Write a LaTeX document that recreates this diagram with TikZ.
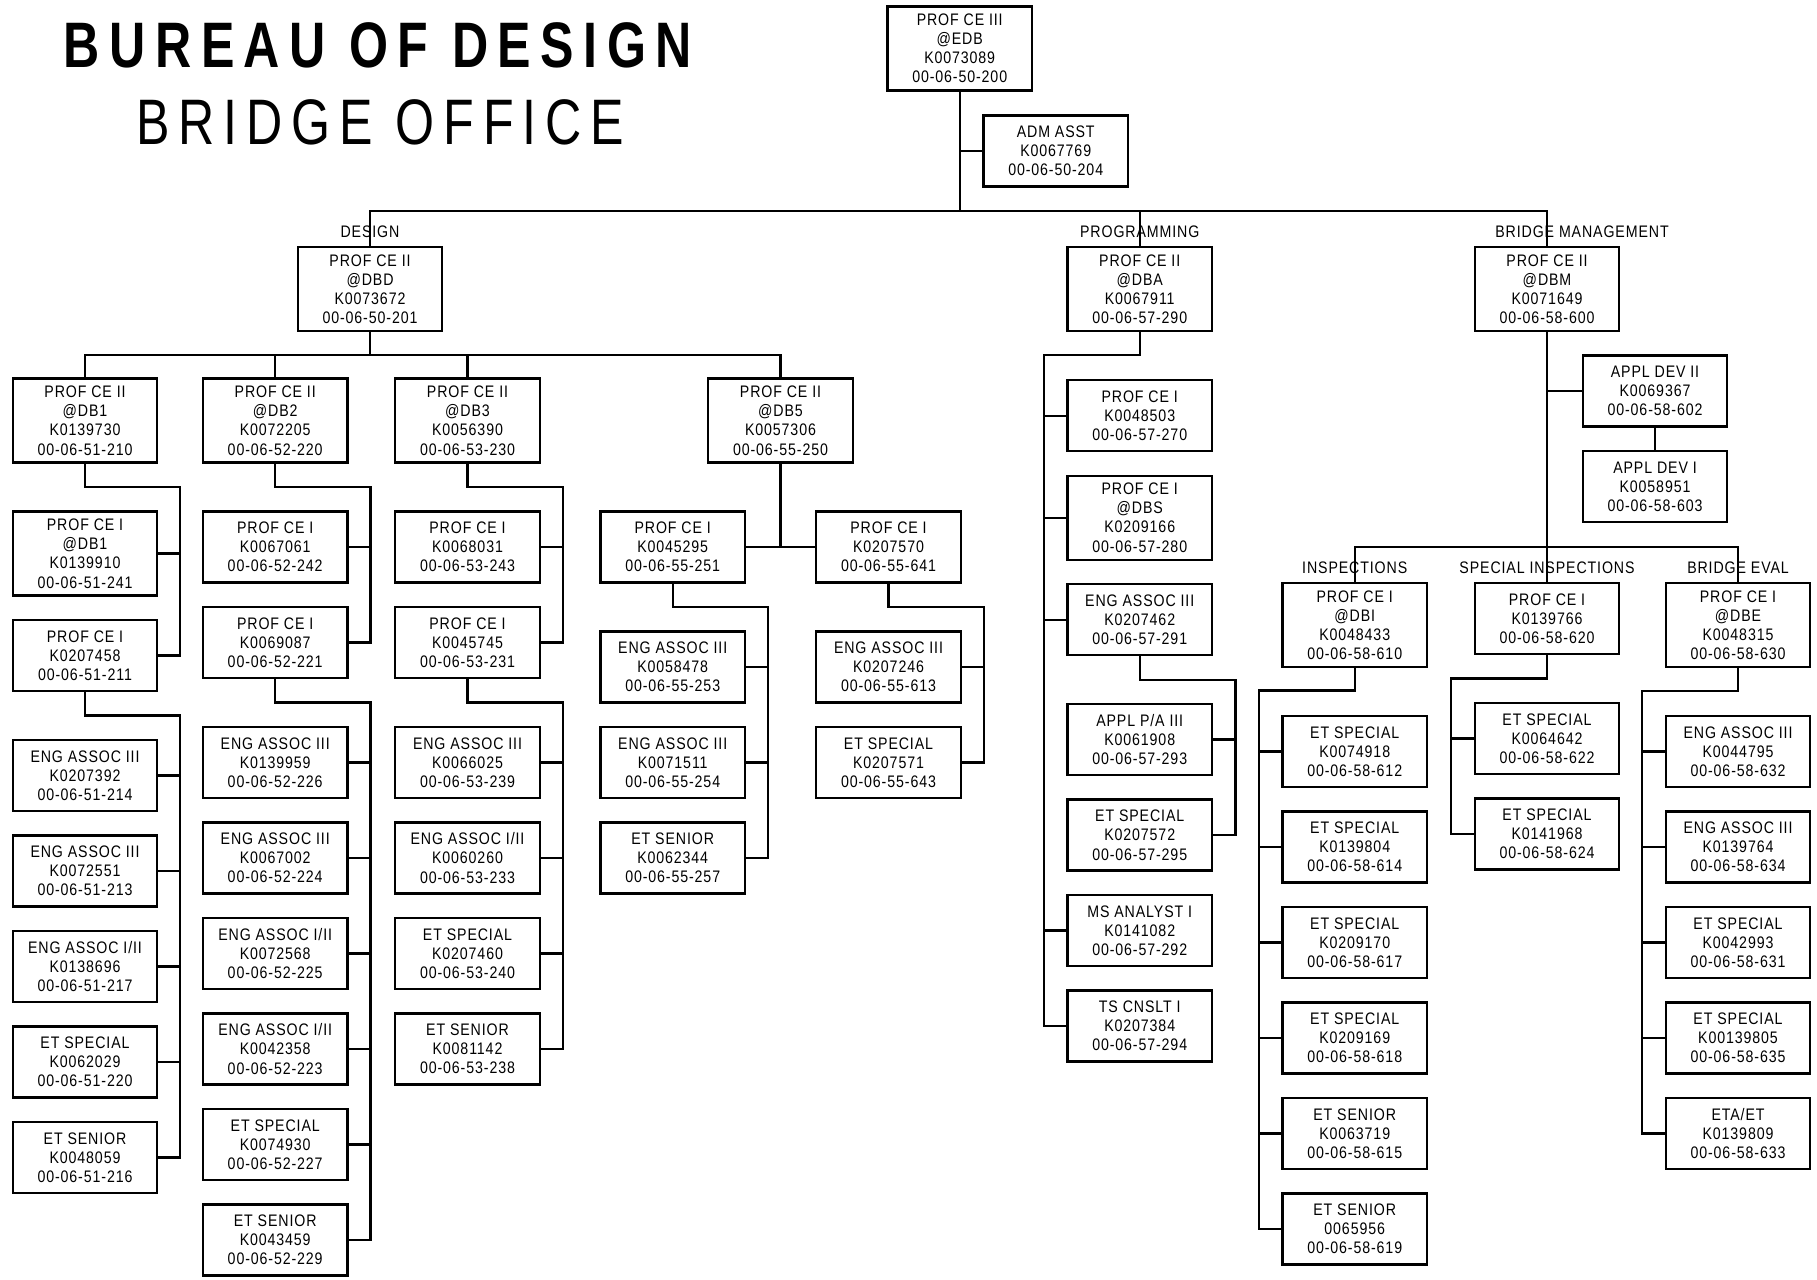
\documentclass[tikz,border=0pt]{standalone}
\usepackage{fontspec}
\setmainfont{Liberation Sans}[FakeStretch=0.85,LetterSpace=5.3]
\newfontfamily\headfont{Liberation Sans}[FakeStretch=0.78,LetterSpace=14.8]
\newfontfamily\subheadfont{Liberation Sans}[FakeStretch=0.78,LetterSpace=13.8]
\usetikzlibrary{positioning,calc}
\newcommand{\cardfont}{\fontsize{9.5}{10.9}\selectfont}
\tikzset{
  link/.style={line width=1.3pt,draw=black},
  post/.style={draw=black,line width=1.3pt,minimum width=2.89cm,minimum height=1.42cm,
    inner sep=0pt,outer sep=0pt,align=center,font=\cardfont},
  chief/.style={post,minimum height=1.68cm},
  unitlabel/.style={anchor=base,inner sep=0pt,font=\cardfont}
}

\begin{document}
\begin{tikzpicture}[x=0.02cm,y=-0.02cm,node distance=0.49cm]
  \fill[white] (0,0) rectangle (1817,1279);
  \useasboundingbox (0,0) rectangle (1817,1279);

  % title
  \node[anchor=base west,inner sep=0pt] (title) at (63.5,67)
    {\headfont\bfseries\fontsize{36.6}{40}\selectfont BUREAU OF DESIGN};
  \node[anchor=base west,inner sep=0pt] (subtitle) at (136,144)
    {\subheadfont\fontsize{36.6}{40}\selectfont BRIDGE OFFICE};

  % office head
  \node[chief] (edb) at (959.7,48.5) {PROF CE III\\@EDB\\K0073089\\00-06-50-200};
  \node[post] (adm) at (1055.7,151) {ADM ASST\\K0067769\\00-06-50-204};

  % sections
  \node[chief] (dbd) at (370,289.2) {PROF CE II\\@DBD\\K0073672\\00-06-50-201};
  \node[chief] (dba) at (1139.7,289.2) {PROF CE II\\@DBA\\K0067911\\00-06-57-290};
  \node[chief] (dbm) at (1547,289.2) {PROF CE II\\@DBM\\K0071649\\00-06-58-600};
  \node[unitlabel] (lbldsn) at ($(dbd.north)+(0,-10)$) {DESIGN};
  \node[unitlabel] (lblprg) at ($(dba.north)+(0,-10)$) {PROGRAMMING};
  \node[unitlabel] (lblmgt) at ($(dbm.north)+(35,-10)$) {BRIDGE MANAGEMENT};

  % design squads
  \node[chief] (db1) at (85,420.6) {PROF CE II\\@DB1\\K0139730\\00-06-51-210};
  \node[chief] (db2) at (275.2,420.6) {PROF CE II\\@DB2\\K0072205\\00-06-52-220};
  \node[chief] (db3) at (467.5,420.6) {PROF CE II\\@DB3\\K0056390\\00-06-53-230};
  \node[chief] (db5) at (780.5,420.6) {PROF CE II\\@DB5\\K0057306\\00-06-55-250};

  % DB1
  \node[chief,below=0.98cm of db1] (c1a) {PROF CE I\\@DB1\\K0139910\\00-06-51-241};
  \node[post,below=of c1a] (c1b) {PROF CE I\\K0207458\\00-06-51-211};
  \node[post,below=0.98cm of c1b] (c1c) {ENG ASSOC III\\K0207392\\00-06-51-214};
  \node[post,below=of c1c] (c1d) {ENG ASSOC III\\K0072551\\00-06-51-213};
  \node[post,below=of c1d] (c1e) {ENG ASSOC I/II\\K0138696\\00-06-51-217};
  \node[post,below=of c1e] (c1f) {ET SPECIAL\\K0062029\\00-06-51-220};
  \node[post,below=of c1f] (c1g) {ET SENIOR\\K0048059\\00-06-51-216};

  % DB2
  \node[post,below=0.98cm of db2] (h1) {PROF CE I\\K0067061\\00-06-52-242};
  \node[post,below=of h1] (h2) {PROF CE I\\K0069087\\00-06-52-221};
  \node[post,below=0.98cm of h2] (h3) {ENG ASSOC III\\K0139959\\00-06-52-226};
  \node[post,below=of h3] (h4) {ENG ASSOC III\\K0067002\\00-06-52-224};
  \node[post,below=of h4] (h5) {ENG ASSOC I/II\\K0072568\\00-06-52-225};
  \node[post,below=of h5] (h6) {ENG ASSOC I/II\\K0042358\\00-06-52-223};
  \node[post,below=of h6] (h7) {ET SPECIAL\\K0074930\\00-06-52-227};
  \node[post,below=of h7] (h8) {ET SENIOR\\K0043459\\00-06-52-229};

  % DB3
  \node[post,below=0.98cm of db3] (g1) {PROF CE I\\K0068031\\00-06-53-243};
  \node[post,below=of g1] (g2) {PROF CE I\\K0045745\\00-06-53-231};
  \node[post,below=0.98cm of g2] (g3) {ENG ASSOC III\\K0066025\\00-06-53-239};
  \node[post,below=of g3] (g4) {ENG ASSOC I/II\\K0060260\\00-06-53-233};
  \node[post,below=of g4] (g5) {ET SPECIAL\\K0207460\\00-06-53-240};
  \node[post,below=of g5] (g6) {ET SENIOR\\K0081142\\00-06-53-238};

  % DB5
  \node[post] (c5a) at (672.7,547) {PROF CE I\\K0045295\\00-06-55-251};
  \node[post] (c5b) at (888.5,547) {PROF CE I\\K0207570\\00-06-55-641};
  \node[post,below=0.98cm of c5a] (d1) {ENG ASSOC III\\K0058478\\00-06-55-253};
  \node[post,below=of d1] (d2) {ENG ASSOC III\\K0071511\\00-06-55-254};
  \node[post,below=of d2] (d3) {ET SENIOR\\K0062344\\00-06-55-257};
  \node[post,below=0.98cm of c5b] (f1) {ENG ASSOC III\\K0207246\\00-06-55-613};
  \node[post,below=of f1] (f2) {ET SPECIAL\\K0207571\\00-06-55-643};

  % programming
  \node[post,below=0.98cm of dba] (p1) {PROF CE I\\K0048503\\00-06-57-270};
  \node[chief,below=of p1] (p2) {PROF CE I\\@DBS\\K0209166\\00-06-57-280};
  \node[post,below=of p2] (p3) {ENG ASSOC III\\K0207462\\00-06-57-291};
  \node[post,below=0.98cm of p3] (p4) {APPL P/A III\\K0061908\\00-06-57-293};
  \node[post,below=of p4] (p5) {ET SPECIAL\\K0207572\\00-06-57-295};
  \node[post,below=of p5] (p6) {MS ANALYST I\\K0141082\\00-06-57-292};
  \node[post,below=of p6] (p7) {TS CNSLT I\\K0207384\\00-06-57-294};

  % bridge management
  \node[post] (appl2) at (1655,391) {APPL DEV II\\K0069367\\00-06-58-602};
  \node[post,below=of appl2] (appl1) {APPL DEV I\\K0058951\\00-06-58-603};
  \node[chief] (dbi) at (1354.7,625) {PROF CE I\\@DBI\\K0048433\\00-06-58-610};
  \node[post] (dbsi) at (1547,618.5) {PROF CE I\\K0139766\\00-06-58-620};
  \node[chief] (dbe) at (1738,625) {PROF CE I\\@DBE\\K0048315\\00-06-58-630};
  \node[unitlabel] (lblins) at ($(dbi.north)+(0,-10)$) {INSPECTIONS};
  \node[unitlabel] (lblspc) at ($(dbsi.north)+(0,-10)$) {SPECIAL INSPECTIONS};
  \node[unitlabel] (lblevl) at ($(dbe.north)+(0,-10)$) {BRIDGE EVAL};

  \node[post,below=0.98cm of dbi] (i1) {ET SPECIAL\\K0074918\\00-06-58-612};
  \node[post,below=of i1] (i2) {ET SPECIAL\\K0139804\\00-06-58-614};
  \node[post,below=of i2] (i3) {ET SPECIAL\\K0209170\\00-06-58-617};
  \node[post,below=of i3] (i4) {ET SPECIAL\\K0209169\\00-06-58-618};
  \node[post,below=of i4] (i5) {ET SENIOR\\K0063719\\00-06-58-615};
  \node[post,below=of i5] (i6) {ET SENIOR\\0065956\\00-06-58-619};

  \node[post,below=0.98cm of dbsi] (s1) {ET SPECIAL\\K0064642\\00-06-58-622};
  \node[post,below=of s1] (s2) {ET SPECIAL\\K0141968\\00-06-58-624};

  \node[post,below=0.98cm of dbe] (e1) {ENG ASSOC III\\K0044795\\00-06-58-632};
  \node[post,below=of e1] (e2) {ENG ASSOC III\\K0139764\\00-06-58-634};
  \node[post,below=of e2] (e3) {ET SPECIAL\\K0042993\\00-06-58-631};
  \node[post,below=of e3] (e4) {ET SPECIAL\\K00139805\\00-06-58-635};
  \node[post,below=of e4] (e5) {ETA/ET\\K0139809\\00-06-58-633};

  % top level lines
  \coordinate (bus) at ($(dbd.north)+(0,-36)$);
  \draw[link] (dbd.north) -- (bus) -| (dbm.north);
  \draw[link] (edb.south) -- (edb.south |- bus);
  \draw[link] (dba.north) -- (dba.north |- bus);
  \draw[link] (adm.west) -- (adm.west -| edb.south);

  % design lines
  \draw[link] (dbd.south) -- ++(0,24) -| (db1.north);
  \draw[link] (db2.north) |- ($(dbd.south)+(0,24)$) -| (db5.north);
  \draw[link] (db3.north) -- ++(0,-24);

  \draw[link] (db1.south) -- ++(0,24.5) -| ($(c1b.east)+(23,0)$) -- (c1b.east);
  \draw[link] (c1a.east) -- ++(23,0);
  \draw[link] (c1b.south) -- ++(0,24.5) -| ($(c1g.east)+(23,0)$) -- (c1g.east);
  \foreach \n in {c1c,c1d,c1e,c1f} \draw[link] (\n.east) -- ++(23,0);

  \draw[link] (db2.south) -- ++(0,24.5) -| ($(h2.east)+(23,0)$) -- (h2.east);
  \draw[link] (h1.east) -- ++(23,0);
  \draw[link] (h2.south) -- ++(0,24.5) -| ($(h8.east)+(23,0)$) -- (h8.east);
  \foreach \n in {h3,h4,h5,h6,h7} \draw[link] (\n.east) -- ++(23,0);

  \draw[link] (db3.south) -- ++(0,24.5) -| ($(g2.east)+(23,0)$) -- (g2.east);
  \draw[link] (g1.east) -- ++(23,0);
  \draw[link] (g2.south) -- ++(0,24.5) -| ($(g6.east)+(23,0)$) -- (g6.east);
  \foreach \n in {g3,g4,g5} \draw[link] (\n.east) -- ++(23,0);

  \draw[link] (db5.south) -- (db5.south |- c5a.east);
  \draw[link] (c5a.east) -- (c5b.west);
  \draw[link] (c5a.south) -- ++(0,24.5) -| ($(d3.east)+(23,0)$) -- (d3.east);
  \foreach \n in {d1,d2} \draw[link] (\n.east) -- ++(23,0);
  \draw[link] (c5b.south) -- ++(0,24.5) -| ($(f2.east)+(23,0)$) -- (f2.east);
  \draw[link] (f1.east) -- ++(23,0);

  % programming lines
  \draw[link] (dba.south) -- ++(0,24) -| ($(p7.west)+(-23.5,0)$) -- (p7.west);
  \foreach \n in {p1,p2,p3,p6} \draw[link] (\n.west) -- ++(-23.5,0);
  \draw[link] (p3.south) -- ++(0,24.5) -| ($(p5.east)+(23.5,0)$) -- (p5.east);
  \draw[link] (p4.east) -- ++(23.5,0);

  % bridge management lines
  \draw[link] (dbm.south) -- (dbsi.north);
  \draw[link] (appl2.west) -- (appl2.west -| dbm.south);
  \draw[link] (appl2.south) -- (appl1.north);
  \draw[link] (dbi.north) -- ++(0,-36) -| (dbe.north);

  \draw[link] (dbi.south) -- ++(0,23.5) -| ($(i6.west)+(-23.5,0)$) -- (i6.west);
  \foreach \n in {i1,i2,i3,i4,i5} \draw[link] (\n.west) -- ++(-23.5,0);
  \draw[link] (dbsi.south) -- ++(0,24.5) -| ($(s2.west)+(-23.5,0)$) -- (s2.west);
  \draw[link] (s1.west) -- ++(-23.5,0);
  \draw[link] (dbe.south) -- ++(0,24) -| ($(e5.west)+(-23.5,0)$) -- (e5.west);
  \foreach \n in {e1,e2,e3,e4} \draw[link] (\n.west) -- ++(-23.5,0);
\end{tikzpicture}
\end{document}
